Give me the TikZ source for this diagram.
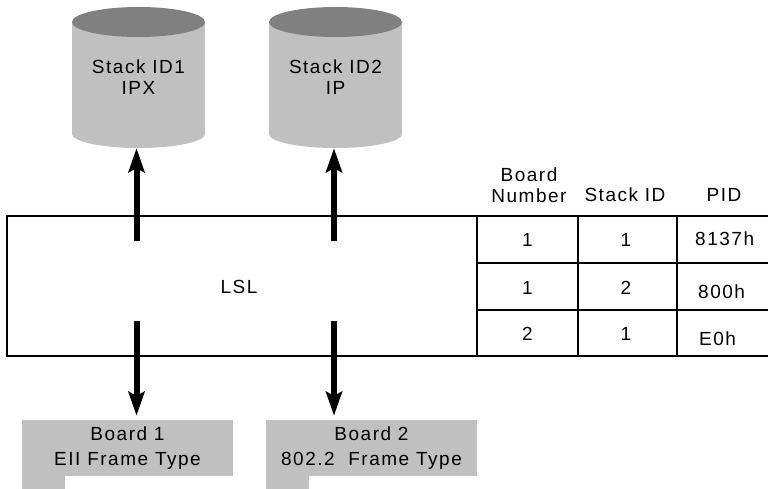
\documentclass[tikz,border=0pt]{standalone}
\usepackage{fontspec}
\setmainfont{Liberation Sans}[LetterSpace=8]
\usetikzlibrary{arrows.meta}
\definecolor{bodygray}{HTML}{C0C0C0}
\definecolor{topgray}{HTML}{808080}
\tikzset{
  txt/.style={font=\fontsize{19}{21}\selectfont, inner sep=0pt, align=center},
  cyltext/.style={txt, minimum width=133pt, minimum height=141pt},
  boardbox/.style={txt, fill=bodygray, minimum width=211pt, minimum height=56pt,
    font=\fontsize{19}{25}\selectfont},
  bigarrow/.style={line width=6pt, -{Stealth[length=24pt,width=16pt,inset=4pt]}},
  frame/.style={line width=1.3pt},
}
\begin{document}
\begin{tikzpicture}[x=1pt, y=-1pt]
\useasboundingbox (0,0) rectangle (768,489);

% stacks drawn as cylinders
\foreach \cx in {138.5,335.5}{
  \fill[bodygray] (\cx-66.5,22) rectangle (\cx+66.5,134);
  \fill[bodygray] (\cx,134) ellipse [x radius=66.5, y radius=14];
  \fill[topgray] (\cx,22) ellipse [x radius=66.5, y radius=15];
}
\node[cyltext] (cyl1) at (138.5,77.5) {Stack ID1\\IPX};
\node[cyltext] (cyl2) at (335.5,77.5) {Stack ID2\\IP};

% LSL box with its binding table
\draw[frame] (770,216) -- (7,216) -- (7,356) -- (770,356);
\draw[frame] (477,216) -- (477,356);
\draw[frame] (578,216) -- (578,356);
\draw[frame] (677,216) -- (677,356);
\draw[frame] (477,263) -- (770,263);
\draw[frame] (477,310) -- (770,310);
\node[txt] (lsl) at (239,287) {LSL};

% table header
\node[txt] (hboard) at (529,185) {Board\\Number};
\node[txt] (hstack) at (625,195) {Stack ID};
\node[txt] (hpid) at (724,195) {PID};

% table rows
\node[txt] (b1) at (527.5,240) {1};
\node[txt] (s1) at (626,240) {1};
\node[txt, anchor=west] (p1) at (695,239) {8137h};
\node[txt] (b2) at (527.5,288) {1};
\node[txt] (s2) at (626,288) {2};
\node[txt, anchor=west] (p2) at (698,292) {800h};
\node[txt] (b3) at (527.5,334) {2};
\node[txt] (s3) at (626,334) {1};
\node[txt, anchor=west] (p3) at (699,339) {E0h};

% boards
\node[boardbox] (board1) at (127.5,448) {Board 1\\EII Frame Type};
\node[boardbox] (board2) at (371.5,448) {Board 2\\802.2~~Frame Type};
\fill[bodygray] (board1.south west) rectangle ++(43,13);
\fill[bodygray] (board2.south west) rectangle ++(43,13);

% connectors
\coordinate (up1) at (136.5,241);
\coordinate (up2) at (334,241);
\coordinate (dn1) at (136.5,321);
\coordinate (dn2) at (334,321);
\draw[bigarrow] (up1) -- (up1 |- cyl1.south);
\draw[bigarrow] (up2) -- (up2 |- cyl2.south);
\draw[bigarrow, shorten >=4pt] (dn1) -- (dn1 |- board1.north);
\draw[bigarrow, shorten >=4pt] (dn2) -- (dn2 |- board2.north);
\end{tikzpicture}
\end{document}
